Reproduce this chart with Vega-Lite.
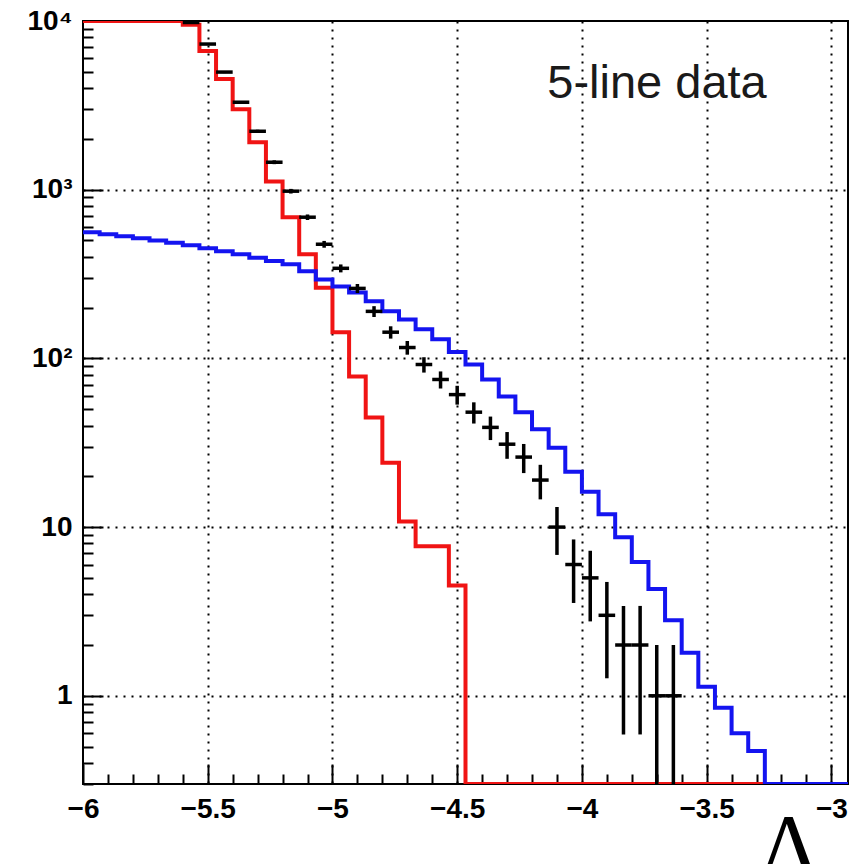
{
  "$schema": "https://vega.github.io/schema/vega-lite/v6.json",
  "width": 765,
  "height": 763,
  "autosize": {"type": "none"},
  "padding": {"left": 83, "top": 21, "right": 17, "bottom": 80},
  "background": "white",
  "title": {"text": "Upgoing", "anchor": "start", "dx": 232, "offset": 21, "baseline": "alphabetic", "font": "Liberation Sans", "fontSize": 44, "fontWeight": "normal", "color": "black"},
  "config": {
    "view": {"stroke": "black", "strokeWidth": 2},
    "axis": {"domain": false, "labelColor": "black", "tickColor": "black", "tickWidth": 2, "labelFont": "Liberation Sans", "labelFontWeight": "bold", "labelFontSize": 28, "gridColor": "black", "gridDash": [2, 6], "gridWidth": 2, "labelOverlap": false, "labelBound": false, "labelFlush": false}
  },
  "datasets": {
    "hist": [
      {"x": -6.0, "red": 10000, "blue": 560},
      {"x": -5.93333, "red": 10000, "blue": 545},
      {"x": -5.86667, "red": 10000, "blue": 530},
      {"x": -5.8, "red": 10000, "blue": 515},
      {"x": -5.73333, "red": 10000, "blue": 500},
      {"x": -5.66667, "red": 10000, "blue": 485},
      {"x": -5.6, "red": 9500, "blue": 468},
      {"x": -5.53333, "red": 6640, "blue": 450},
      {"x": -5.46667, "red": 4530, "blue": 432},
      {"x": -5.4, "red": 3000, "blue": 414},
      {"x": -5.33333, "red": 1910, "blue": 395},
      {"x": -5.26667, "red": 1120, "blue": 378},
      {"x": -5.2, "red": 687, "blue": 361},
      {"x": -5.13333, "red": 414, "blue": 328},
      {"x": -5.06667, "red": 262, "blue": 294},
      {"x": -5.0, "red": 143, "blue": 267},
      {"x": -4.93333, "red": 78, "blue": 246},
      {"x": -4.86667, "red": 44.7, "blue": 218},
      {"x": -4.8, "red": 24.1, "blue": 190},
      {"x": -4.73333, "red": 10.8, "blue": 170},
      {"x": -4.66667, "red": 7.7, "blue": 149},
      {"x": -4.6, "red": 7.7, "blue": 130},
      {"x": -4.53333, "red": 4.5, "blue": 109},
      {"x": -4.46667, "red": 0, "blue": 92},
      {"x": -4.4, "red": 0, "blue": 75},
      {"x": -4.33333, "red": 0, "blue": 59.5},
      {"x": -4.26667, "red": 0, "blue": 48},
      {"x": -4.2, "red": 0, "blue": 38},
      {"x": -4.13333, "red": 0, "blue": 29.5},
      {"x": -4.06667, "red": 0, "blue": 21.3},
      {"x": -4.0, "red": 0, "blue": 16.2},
      {"x": -3.93333, "red": 0, "blue": 11.9},
      {"x": -3.86667, "red": 0, "blue": 8.7},
      {"x": -3.8, "red": 0, "blue": 6.2},
      {"x": -3.73333, "red": 0, "blue": 4.3},
      {"x": -3.66667, "red": 0, "blue": 2.8},
      {"x": -3.6, "red": 0, "blue": 1.8},
      {"x": -3.53333, "red": 0, "blue": 1.13},
      {"x": -3.46667, "red": 0, "blue": 0.85},
      {"x": -3.4, "red": 0, "blue": 0.6},
      {"x": -3.33333, "red": 0, "blue": 0.47},
      {"x": -3.26667, "red": 0, "blue": 0},
      {"x": -3.2, "red": 0, "blue": 0},
      {"x": -3.13333, "red": 0, "blue": 0},
      {"x": -3.06667, "red": 0, "blue": 0},
      {"x": -3.0, "red": 0, "blue": 0},
      {"x": -2.93333, "red": 0, "blue": 0}
    ],
    "pts": [
      {"lo": -5.6, "hi": -5.53333, "mid": -5.56667, "n": 9800, "elo": 9701, "ehi": 9899},
      {"lo": -5.53333, "hi": -5.46667, "mid": -5.5, "n": 7300, "elo": 7215, "ehi": 7385},
      {"lo": -5.46667, "hi": -5.4, "mid": -5.43333, "n": 4980, "elo": 4909, "ehi": 5051},
      {"lo": -5.4, "hi": -5.33333, "mid": -5.36667, "n": 3300, "elo": 3243, "ehi": 3357},
      {"lo": -5.33333, "hi": -5.26667, "mid": -5.3, "n": 2220, "elo": 2173, "ehi": 2267},
      {"lo": -5.26667, "hi": -5.2, "mid": -5.23333, "n": 1455, "elo": 1417, "ehi": 1493},
      {"lo": -5.2, "hi": -5.13333, "mid": -5.16667, "n": 980, "elo": 949, "ehi": 1011},
      {"lo": -5.13333, "hi": -5.06667, "mid": -5.1, "n": 687, "elo": 661, "ehi": 713},
      {"lo": -5.06667, "hi": -5.0, "mid": -5.03333, "n": 475, "elo": 453, "ehi": 497},
      {"lo": -5.0, "hi": -4.93333, "mid": -4.96667, "n": 342, "elo": 323.5, "ehi": 360.5},
      {"lo": -4.93333, "hi": -4.86667, "mid": -4.9, "n": 260, "elo": 244, "ehi": 276},
      {"lo": -4.86667, "hi": -4.8, "mid": -4.83333, "n": 190, "elo": 176, "ehi": 204},
      {"lo": -4.8, "hi": -4.73333, "mid": -4.76667, "n": 143, "elo": 131, "ehi": 155},
      {"lo": -4.73333, "hi": -4.66667, "mid": -4.7, "n": 116, "elo": 105.2, "ehi": 126.8},
      {"lo": -4.66667, "hi": -4.6, "mid": -4.63333, "n": 92, "elo": 82.4, "ehi": 101.6},
      {"lo": -4.6, "hi": -4.53333, "mid": -4.56667, "n": 75, "elo": 66.3, "ehi": 83.7},
      {"lo": -4.53333, "hi": -4.46667, "mid": -4.5, "n": 61, "elo": 53.2, "ehi": 68.8},
      {"lo": -4.46667, "hi": -4.4, "mid": -4.43333, "n": 48, "elo": 41.1, "ehi": 54.9},
      {"lo": -4.4, "hi": -4.33333, "mid": -4.36667, "n": 39, "elo": 32.8, "ehi": 45.2},
      {"lo": -4.33333, "hi": -4.26667, "mid": -4.3, "n": 31, "elo": 25.4, "ehi": 36.6},
      {"lo": -4.26667, "hi": -4.2, "mid": -4.23333, "n": 26, "elo": 20.9, "ehi": 31.1},
      {"lo": -4.2, "hi": -4.13333, "mid": -4.16667, "n": 19, "elo": 14.6, "ehi": 23.4},
      {"lo": -4.13333, "hi": -4.06667, "mid": -4.1, "n": 10, "elo": 6.84, "ehi": 13.16},
      {"lo": -4.06667, "hi": -4.0, "mid": -4.03333, "n": 6, "elo": 3.55, "ehi": 8.45},
      {"lo": -4.0, "hi": -3.93333, "mid": -3.96667, "n": 5, "elo": 2.76, "ehi": 7.24},
      {"lo": -3.93333, "hi": -3.86667, "mid": -3.9, "n": 3, "elo": 1.27, "ehi": 4.73},
      {"lo": -3.86667, "hi": -3.8, "mid": -3.83333, "n": 2, "elo": 0.59, "ehi": 3.41},
      {"lo": -3.8, "hi": -3.73333, "mid": -3.76667, "n": 2, "elo": 0.59, "ehi": 3.41},
      {"lo": -3.73333, "hi": -3.66667, "mid": -3.7, "n": 1, "elo": 0, "ehi": 2},
      {"lo": -3.66667, "hi": -3.6, "mid": -3.63333, "n": 1, "elo": 0, "ehi": 2}
    ],
    "note": [{"x": -4.139, "y": 3500, "label": "5-line data"}]
  },
  "layer": [
    {
      "data": {"name": "hist"},
      "mark": {"type": "line", "interpolate": "step-after", "color": "#f01414", "strokeWidth": 4, "clip": true, "invalid": "show"},
      "encoding": {
        "x": {"field": "x", "type": "quantitative", "scale": {"domain": [-6, -2.93333], "nice": false, "zero": false},
          "axis": {
            "values": [-6, -5.9, -5.8, -5.7, -5.6, -5.5, -5.4, -5.3, -5.2, -5.1, -5, -4.9, -4.8, -4.7, -4.6, -4.5, -4.4, -4.3, -4.2, -4.1, -4, -3.9, -3.8, -3.7, -3.6, -3.5, -3.4, -3.3, -3.2, -3.1, -3],
            "tickCount": 100,
            "labelExpr": "indexof([-6,-5.5,-5,-4.5,-4,-3.5,-3], datum.value) >= 0 ? '\u2212' + format(abs(datum.value), '~g') : ''",
            "tickSize": {"condition": {"test": "indexof([-6,-5.5,-5,-4.5,-4,-3.5,-3], datum.value) >= 0", "value": -20}, "value": -10},
            "labelPadding": 31,
            "labelAlign": "center",
            "grid": true,
            "gridOpacity": {"condition": {"test": "indexof([-5.5,-5,-4.5,-4,-3.5,-3], datum.value) >= 0", "value": 1}, "value": 0},
            "title": "\u039b",
            "titleFont": "Liberation Serif",
            "titleFontSize": 88,
            "titleFontWeight": "normal",
            "titleColor": "black",
            "titleX": 706,
            "titleY": 90,
            "titleAlign": "center",
            "titleBaseline": "alphabetic",
            "titleAngle": 0
          }
        },
        "y": {"field": "red", "type": "quantitative", "scale": {"type": "log", "domain": [0.3, 10000], "nice": false, "clamp": true},
          "axis": {
            "values": [0.3, 0.4, 0.5, 0.6, 0.7, 0.8, 0.9, 1, 2, 3, 4, 5, 6, 7, 8, 9, 10, 20, 30, 40, 50, 60, 70, 80, 90, 100, 200, 300, 400, 500, 600, 700, 800, 900, 1000, 2000, 3000, 4000, 5000, 6000, 7000, 8000, 9000, 10000],
            "tickCount": 100,
            "labelExpr": "datum.value == 1 ? '1' : datum.value == 10 ? '10' : datum.value == 100 ? '10\u00b2' : datum.value == 1000 ? '10\u00b3' : datum.value == 10000 ? '10\u2074' : ''",
            "tickSize": {"condition": {"test": "indexof([1,10,100,1000,10000], datum.value) >= 0", "value": -20}, "value": -10},
            "labelPadding": 31,
            "grid": true,
            "gridOpacity": {"condition": {"test": "indexof([1,10,100,1000], datum.value) >= 0", "value": 1}, "value": 0},
            "title": null
          }
        }
      }
    },
    {
      "data": {"name": "hist"},
      "mark": {"type": "line", "interpolate": "step-after", "color": "#1414f0", "strokeWidth": 4, "clip": true, "invalid": "show"},
      "encoding": {
        "x": {"field": "x", "type": "quantitative"},
        "y": {"field": "blue", "type": "quantitative"}
      }
    },
    {
      "data": {"name": "pts"},
      "mark": {"type": "rule", "color": "black", "strokeWidth": 3.5, "clip": true, "invalid": "show"},
      "encoding": {
        "x": {"field": "mid", "type": "quantitative"},
        "y": {"field": "elo", "type": "quantitative"},
        "y2": {"field": "ehi"}
      }
    },
    {
      "data": {"name": "pts"},
      "mark": {"type": "rule", "color": "black", "strokeWidth": 3.5, "clip": true},
      "encoding": {
        "x": {"field": "lo", "type": "quantitative"},
        "x2": {"field": "hi"},
        "y": {"field": "n", "type": "quantitative"}
      }
    },
    {
      "data": {"name": "note"},
      "mark": {"type": "text", "font": "Liberation Sans", "fontSize": 47, "align": "left", "baseline": "alphabetic", "color": "#1a1a1a"},
      "encoding": {
        "x": {"field": "x", "type": "quantitative"},
        "y": {"field": "y", "type": "quantitative"},
        "text": {"field": "label"}
      }
    }
  ]
}
